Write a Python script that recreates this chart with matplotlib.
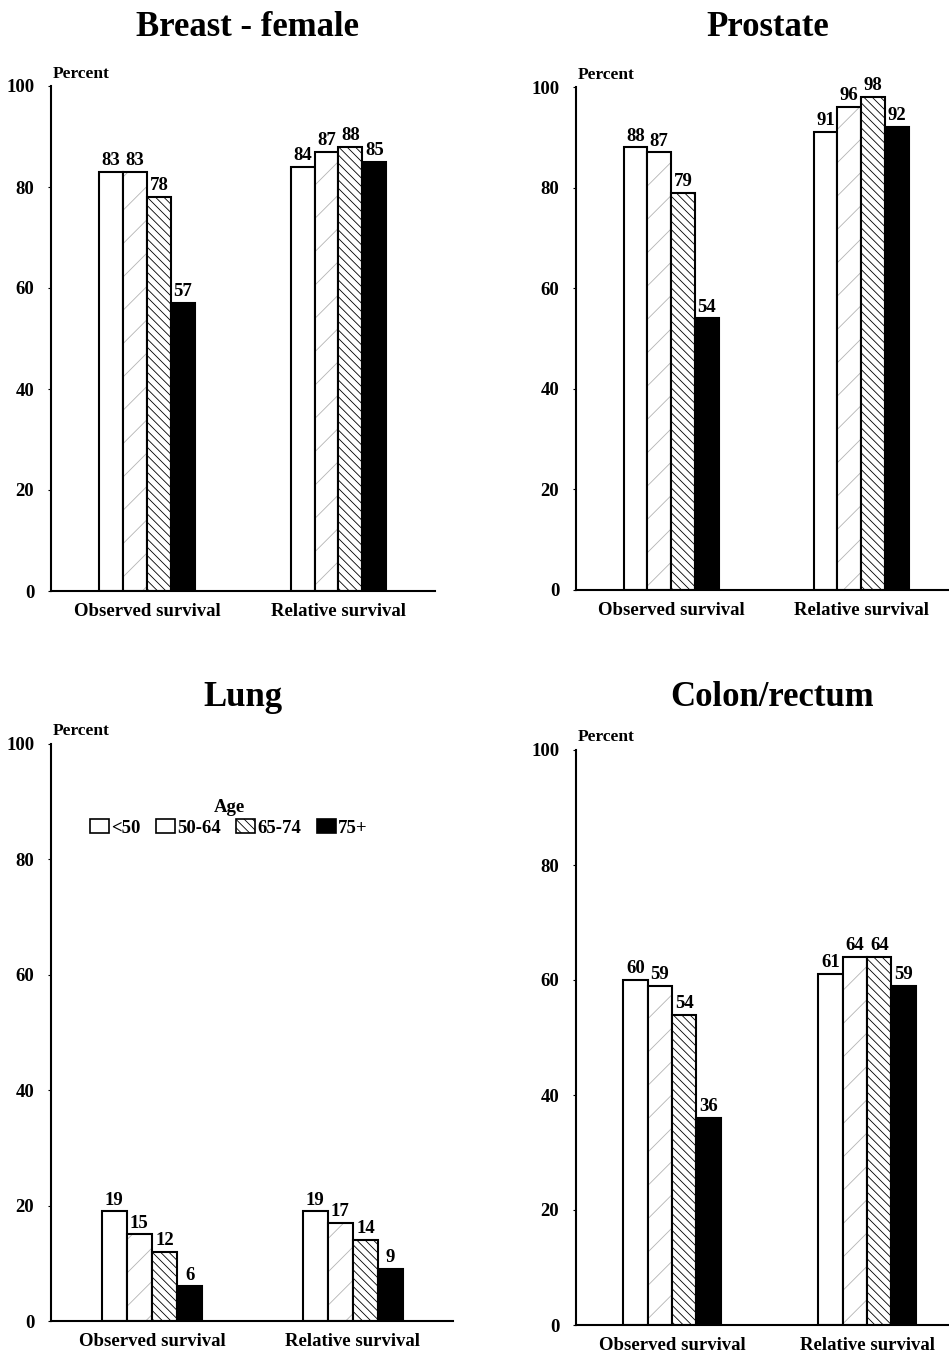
import matplotlib
matplotlib.use("Agg")
import matplotlib.pyplot as plt
from matplotlib.patches import Patch
import numpy as np

plt.rcParams['font.family'] = ['Liberation Serif', 'DejaVu Serif']
plt.rcParams['font.weight'] = 'bold'
plt.rcParams['hatch.linewidth'] = 0.6

# ---- data ----
groups = ["Observed survival", "Relative survival"]
age_labels = ["<50", "50-64", "65-74", "75+"]
titles = ["Breast - female", "Prostate", "Lung", "Colon/rectum"]

breast_obs = [83, 83, 78, 57]
breast_rel = [84, 87, 88, 85]
prostate_obs = [88, 87, 79, 54]
prostate_rel = [91, 96, 98, 92]
lung_obs = [19, 15, 12, 6]
lung_rel = [19, 17, 14, 9]
colon_obs = [60, 59, 54, 36]
colon_rel = [61, 64, 64, 59]

yticks = [0, 20, 40, 60, 80, 100]

panels = [
    (breast_obs, breast_rel),
    (prostate_obs, prostate_rel),
    (lung_obs, lung_rel),
    (colon_obs, colon_rel),
]

# ---- layout (figure fractions) ----
W, H = 949, 1357
fig = plt.figure(figsize=(W / 100, H / 100), dpi=100)

def frac(l, r, b, t):
    return [l / W, 1 - b / H, (r - l) / W, (b - t) / H]

axes_px = [
    (51, 435, 591, 86),
    (576, 949, 590, 87),
    (51, 453, 1321, 744),
    (576, 949, 1325, 750),
]
xlims = [(-0.501, 1.504), (-0.5, 1.463), (-0.502, 1.4975), (-0.492, 1.42)]
title_pos = [(248, 27), (768, 27), (243, 698), (772, 698)]

styles = [
    dict(facecolor="white", hatch=None, hcolor=None),
    dict(facecolor="white", hatch="/", hcolor="#b4b4b4"),
    dict(facecolor="white", hatch="\\\\\\\\", hcolor="black"),
    dict(facecolor="black", hatch=None, hcolor=None),
]

width = 0.125
xg = np.arange(len(groups))
FS = 13.5

for i, ((obs, rel), (l, r, b, t)) in enumerate(zip(panels, axes_px)):
    ax = fig.add_axes(frac(l, r, b, t))
    vals = np.array([obs, rel])  # shape (2 groups, 4 ages)
    for k in range(4):
        xs = xg + (k - 1.5) * width
        st = styles[k]
        if st["hatch"]:
            ax.bar(xs, vals[:, k], width, facecolor=st["facecolor"],
                   edgecolor=st["hcolor"], hatch=st["hatch"], linewidth=0)
            ax.bar(xs, vals[:, k], width, fill=False, edgecolor="black",
                   linewidth=1.5)
        else:
            ax.bar(xs, vals[:, k], width, facecolor=st["facecolor"],
                   edgecolor="black", linewidth=1.5)
        for x, v in zip(xs, vals[:, k]):
            ax.annotate(f"{v}", (x, v), xytext=(0, 2), textcoords="offset points",
                        ha="center", va="bottom", fontsize=FS, fontweight="bold")
    ax.set_xlim(*xlims[i])
    ax.set_ylim(0, 100)
    ax.set_yticks(yticks)
    ax.set_yticklabels([str(v) for v in yticks], fontsize=FS, fontweight="bold")
    ax.set_xticks(xg)
    ax.set_xticklabels(groups, fontsize=FS, fontweight="bold")
    ax.tick_params(axis="y", length=2, width=0.8, pad=10)
    ax.tick_params(axis="x", length=0, pad=9)
    for s in ["top", "right"]:
        ax.spines[s].set_visible(False)
    for s in ["left", "bottom"]:
        ax.spines[s].set_linewidth(1.5)
    ax.text(0.005, 1.008, "Percent", transform=ax.transAxes, ha="left",
            va="bottom", fontsize=12.5, fontweight="bold")
    tx, ty = title_pos[i]
    fig.text(tx / W, 1 - ty / H, titles[i], ha="center", va="center",
             fontsize=25, fontweight="bold")

    if i == 2:
        handles = []
        for k in range(4):
            st = styles[k]
            handles.append(Patch(facecolor=st["facecolor"], edgecolor="black",
                                 hatch=st["hatch"] if k == 2 else None,
                                 linewidth=1.2))
        leg = ax.legend(handles, age_labels, title="Age", ncol=4, frameon=False,
                        loc="center", bbox_to_anchor=((229 - l) / (r - l), (b - 818) / (b - t)),
                        fontsize=FS, title_fontproperties={"weight": "bold", "size": FS},
                        handlelength=1.0, handleheight=0.8, handletextpad=0.15,
                        columnspacing=0.8, borderpad=0.1, labelspacing=0.15)

fig.savefig("out.png", dpi=100)
